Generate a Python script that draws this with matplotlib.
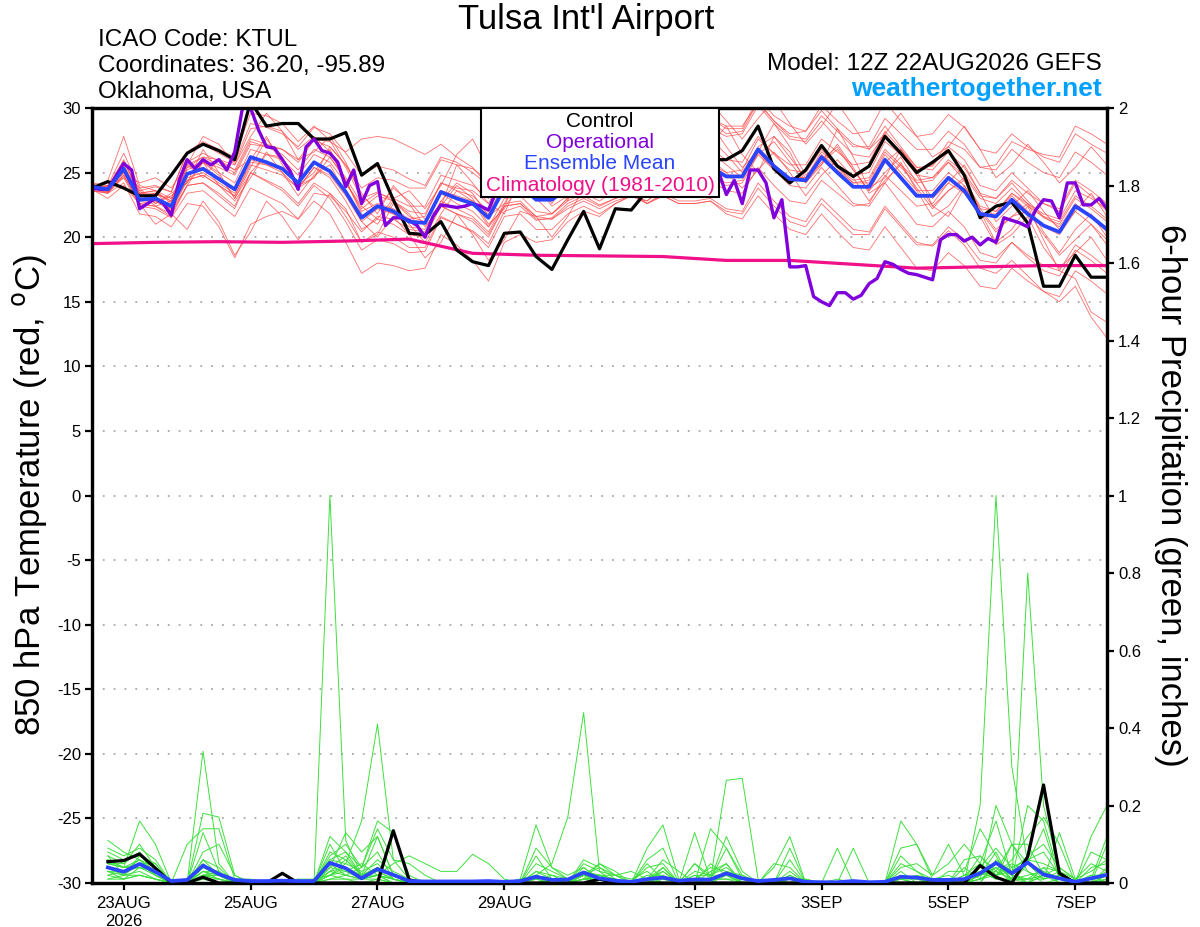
import numpy as np
import matplotlib
matplotlib.use("Agg")
import matplotlib.pyplot as plt
from matplotlib.patches import Rectangle

plt.rcParams['font.family'] = ['Liberation Sans', 'DejaVu Sans']

# ---------------- data ----------------
# x index: 6-hourly steps from 12Z 22AUG2026 (0) to 12Z 07SEP2026 (64)
tick_pos = [2, 10, 18, 26, 38, 46, 54, 62]
tick_labels = ['23AUG\n2026', '25AUG', '27AUG', '29AUG', '1SEP', '3SEP', '5SEP', '7SEP']
temp_ticks = [30, 25, 20, 15, 10, 5, 0, -5, -10, -15, -20, -25, -30]
precip_ticks = [0, 0.2, 0.4, 0.6, 0.8, 1.0, 1.2, 1.4, 1.6, 1.8, 2.0]
precip_tick_labels = ['0', '0.2', '0.4', '0.6', '0.8', '1', '1.2', '1.4', '1.6', '1.8', '2']

control_t = [23.8, 24.3, 23.8, 23.2, 23.2, 24.8, 26.5, 27.2, 26.7, 26.0,
             30.5, 28.6, 28.8, 28.8, 27.6, 27.6, 28.1, 24.8, 25.7, 22.9,
             20.3, 20.2, 21.2, 19.0, 18.1, 17.8, 20.3, 20.4, 18.5, 17.5,
             19.8, 22.0, 19.1, 22.2, 22.1, 23.6, 24.6, 25.2, 25.6, 26.0,
             26.0, 26.7, 28.6, 25.3, 24.2, 25.2, 27.1, 25.5, 24.7, 25.5,
             27.8, 26.5, 25.0, 25.8, 26.7, 24.8, 21.5, 22.4, 22.7, 21.1,
             16.2, 16.2, 18.6, 16.9, 16.9]

mean_t = [23.9, 23.7, 25.3, 22.9, 23.0, 22.4, 24.9, 25.3, 24.5, 23.7,
          26.2, 25.8, 25.3, 24.2, 25.8, 25.1, 23.5, 21.5, 22.4, 22.0,
          21.2, 21.1, 23.5, 23.0, 22.6, 21.5, 23.8, 24.0, 22.9, 22.9,
          23.8, 24.5, 24.0, 24.6, 25.0, 24.5, 25.2, 24.8, 25.0, 25.4,
          24.7, 24.7, 26.8, 25.5, 24.5, 24.4, 26.2, 25.0, 23.9, 23.9,
          26.0, 24.6, 23.2, 23.2, 24.6, 23.6, 21.8, 21.6, 22.9, 21.8,
          20.9, 20.4, 22.4, 21.6, 20.6]

# operational run, 3-hourly (129 values)
oper_t = [23.8, 23.7, 23.7, 24.7, 25.7, 25.2, 22.2, 22.6, 23.0, 22.6,
          21.7, 24.4, 26.0, 25.3, 26.0, 25.6, 26.0, 25.2, 26.6, 30.1,
          30.0, 28.3, 27.0, 26.9, 26.0, 25.1, 23.7, 27.0, 27.6, 26.7,
          26.5, 25.8, 23.9, 25.2, 22.6, 24.0, 24.3, 20.9, 21.5, 21.5,
          21.3, 20.9, 20.0, 21.6, 22.5, 22.4, 22.3, 22.4, 22.6, 22.4,
          22.1, 23.6, 24.4, 24.8, 24.2, 24.0, 24.6, 25.2, 24.8, 24.2,
          23.8, 24.4, 25.0, 25.6, 25.0, 24.4, 24.8, 25.4, 25.8, 25.2,
          24.6, 24.8, 25.4, 25.8, 25.4, 24.8, 24.6, 25.0, 25.4, 25.1,
          23.3, 24.4, 22.6, 25.2, 25.2, 24.2, 21.5, 22.9, 17.7, 17.7,
          17.8, 15.4, 15.0, 14.7, 15.7, 15.7, 15.2, 15.5, 16.4, 16.8,
          18.1, 17.9, 17.5, 17.2, 17.1, 16.9, 16.7, 19.8, 20.2, 20.2,
          19.7, 20.0, 19.4, 19.9, 19.6, 21.5, 21.3, 21.1, 20.8, 22.1,
          22.9, 22.8, 21.5, 24.2, 24.2, 22.5, 22.5, 23.0, 22.2]

# climatology, daily at 12Z
clim_t = [19.5, 19.6, 19.65, 19.6, 19.7, 19.85, 18.75, 18.6, 18.55,
          18.5, 18.2, 18.2, 17.9, 17.6, 17.7, 17.8, 17.8]

t_m01 = [24.2, 24.0, 26.5, 23.8, 24.0, 23.5, 26.5, 27.2, 26.5, 25.8,
         28.8, 28.5, 28.0, 27.0, 28.5, 28.0, 26.5, 24.8, 25.5, 25.2,
         24.5, 24.0, 26.2, 25.8, 25.0, 24.0, 26.5, 27.0, 26.0, 25.8,
         27.0, 27.8, 27.0, 28.0, 28.5, 27.8, 28.8, 28.0, 28.5, 29.0,
         28.0, 28.2, 30.5, 29.0, 28.0, 28.2, 30.2, 29.0, 28.0, 28.2,
         30.5, 29.0, 27.8, 28.0, 29.5, 28.5, 26.8, 26.5, 28.0, 27.0,
         26.2, 25.8, 28.0, 27.2, 26.5]
t_m02 = [23.6, 23.4, 24.8, 22.5, 22.4, 21.6, 24.0, 24.2, 23.2, 22.2,
         25.0, 24.3, 23.6, 22.4, 24.0, 23.0, 21.2, 19.0, 19.8, 19.5,
         18.8, 18.9, 21.5, 21.0, 20.5, 19.5, 22.0, 22.4, 21.3, 21.5,
         22.6, 23.2, 22.5, 23.0, 23.4, 22.6, 23.4, 22.8, 22.8, 23.0,
         22.2, 22.0, 24.2, 22.8, 21.6, 21.2, 23.0, 21.8, 20.6, 20.4,
         22.4, 21.0, 19.6, 19.3, 20.5, 19.4, 17.6, 17.2, 18.2, 17.0,
         15.8, 15.0, 16.2, 13.8, 12.2]
t_m03 = [24.2, 23.5, 25.0, 23.8, 22.6, 23.4, 24.2, 26.8, 25.0, 23.0,
         25.4, 27.6, 26.0, 23.8, 24.6, 27.0, 25.6, 23.4, 21.8, 24.0,
         22.6, 20.8, 22.4, 25.6, 24.2, 22.6, 21.8, 24.6, 26.2, 24.4,
         22.8, 25.2, 27.4, 25.6, 24.2, 26.8, 28.4, 26.0, 24.6, 27.2,
         28.6, 26.4, 25.0, 27.8, 26.6, 24.2, 25.6, 28.4, 26.2, 23.8,
         24.6, 26.8, 25.2, 22.4, 21.6, 23.8, 22.0, 19.6, 20.6, 22.4,
         19.8, 17.4, 16.8, 14.2, 13.4]
t_m04 = [24.1, 23.8, 25.9, 23.6, 23.9, 23.5, 26.6, 27.4, 26.8, 26.2,
         29.6, 29.4, 28.8, 27.4, 28.6, 27.5, 25.4, 23.0, 23.5, 22.8,
         21.6, 21.2, 23.4, 22.6, 22.0, 20.8, 23.0, 23.2, 22.0, 21.8,
         22.8, 23.4, 22.8, 23.6, 24.2, 23.8, 24.8, 24.6, 25.0, 25.6,
         25.0, 25.2, 27.6, 26.5, 25.6, 25.6, 27.6, 26.6, 25.6, 25.8,
         28.2, 26.8, 25.4, 25.5, 27.0, 26.0, 24.0, 23.6, 25.0, 23.8,
         22.6, 22.0, 24.2, 23.2, 22.0]
t_m05 = [23.6, 23.5, 24.6, 22.4, 22.2, 21.5, 23.4, 23.6, 22.6, 21.6,
         23.8, 23.2, 22.6, 21.4, 22.8, 21.8, 19.6, 17.2, 18.0, 17.8,
         17.4, 17.6, 20.2, 19.4, 18.2, 16.6, 19.6, 20.2, 19.6, 19.8,
         21.2, 22.0, 21.6, 22.6, 23.2, 22.8, 23.8, 23.6, 24.0, 24.6,
         24.0, 24.2, 26.4, 25.2, 24.4, 24.4, 26.2, 25.2, 24.2, 24.4,
         26.6, 25.4, 24.2, 24.4, 25.8, 24.8, 23.0, 22.6, 23.8, 22.6,
         21.5, 21.0, 23.0, 22.2, 21.2]
t_m06 = [23.8, 23.6, 25.6, 23.2, 23.3, 23.0, 25.8, 26.5, 25.9, 25.2,
         27.6, 27.2, 26.8, 25.8, 27.5, 27.0, 25.6, 23.8, 24.6, 24.4,
         23.8, 23.8, 26.0, 25.6, 25.3, 24.4, 26.6, 27.0, 26.0, 26.2,
         27.4, 28.0, 27.4, 28.0, 28.6, 28.0, 28.8, 28.3, 28.6, 29.2,
         28.4, 28.4, 30.8, 29.4, 28.6, 28.2, 29.8, 28.4, 27.2, 26.8,
         28.6, 27.0, 25.4, 25.2, 26.6, 25.4, 23.4, 23.0, 24.2, 22.8,
         21.6, 20.8, 22.6, 21.6, 20.4]
t_m07 = [23.7, 23.0, 24.0, 22.6, 21.0, 21.8, 20.6, 22.8, 21.2, 18.6,
         20.4, 22.8, 21.6, 19.8, 21.4, 23.4, 22.2, 19.6, 20.2, 22.6,
         21.0, 19.6, 21.8, 23.6, 22.8, 20.8, 22.4, 25.0, 24.2, 22.6,
         24.4, 26.6, 25.8, 24.4, 27.2, 27.8, 26.4, 25.2, 27.6, 28.8,
         27.0, 25.4, 26.6, 28.8, 27.0, 24.8, 25.6, 27.2, 25.4, 23.4,
         24.2, 25.8, 23.6, 21.6, 22.4, 24.0, 21.6, 19.4, 20.2, 21.6,
         19.2, 17.6, 18.8, 20.0, 18.2]
t_m08 = [24.0, 23.8, 25.2, 23.2, 23.4, 22.8, 25.2, 25.8, 25.4, 24.8,
         27.2, 27.0, 26.8, 26.0, 27.6, 27.4, 26.6, 27.6, 27.8, 27.6,
         27.0, 26.4, 27.2, 26.2, 25.4, 24.0, 25.8, 25.6, 24.2, 24.0,
         24.8, 25.2, 24.4, 24.8, 25.0, 24.2, 24.8, 24.2, 24.2, 24.4,
         23.6, 23.4, 25.4, 24.0, 22.8, 22.6, 24.4, 23.4, 22.4, 22.6,
         24.8, 23.6, 22.4, 22.6, 24.2, 23.4, 21.8, 21.8, 23.4, 22.6,
         21.8, 21.4, 23.6, 23.0, 22.2]
t_m09 = [23.9, 24.0, 24.6, 23.4, 23.6, 22.0, 24.0, 25.8, 24.8, 23.0,
         25.0, 26.4, 26.2, 24.0, 24.6, 26.2, 24.4, 21.8, 21.0, 22.8,
         21.8, 20.2, 22.8, 24.2, 23.4, 21.6, 22.6, 24.8, 24.0, 22.4,
         23.2, 25.2, 24.8, 24.0, 25.6, 26.4, 25.0, 24.6, 26.2, 26.6,
         25.6, 24.6, 26.4, 27.4, 25.8, 24.2, 25.8, 26.8, 25.2, 23.6,
         25.8, 26.8, 24.8, 23.0, 24.2, 25.6, 23.4, 21.2, 22.4, 23.6,
         22.0, 20.6, 22.0, 23.4, 21.6]
t_m10 = [23.8, 24.4, 27.8, 24.0, 23.6, 22.6, 25.4, 26.2, 26.0, 25.6,
         28.4, 28.6, 28.2, 26.8, 27.8, 26.6, 24.4, 22.0, 22.6, 22.2,
         21.4, 21.6, 24.2, 23.8, 23.6, 22.6, 25.0, 25.4, 24.4, 24.6,
         25.6, 26.4, 26.0, 26.8, 27.4, 27.0, 27.8, 27.4, 27.8, 28.4,
         27.8, 28.0, 30.2, 28.8, 27.6, 27.4, 29.0, 27.6, 26.4, 26.2,
         28.0, 26.4, 24.8, 24.6, 25.8, 24.4, 22.4, 22.0, 23.2, 22.0,
         20.8, 20.2, 22.0, 21.0, 19.8]
t_m11 = [23.9, 23.6, 25.4, 22.8, 22.8, 22.0, 24.4, 24.8, 24.0, 23.2,
         25.8, 25.6, 25.2, 24.2, 25.8, 25.2, 23.6, 21.6, 22.4, 21.8,
         20.8, 20.6, 22.8, 22.2, 21.6, 20.4, 22.6, 22.8, 21.6, 21.4,
         22.2, 22.8, 22.2, 22.8, 23.2, 22.6, 23.2, 22.6, 22.6, 22.8,
         21.8, 21.4, 23.2, 21.8, 20.6, 20.2, 21.8, 20.4, 19.2, 19.0,
         20.8, 19.2, 17.6, 17.4, 18.8, 17.8, 16.2, 16.0, 17.6, 16.6,
         15.8, 15.4, 17.4, 16.6, 15.6]
t_m12 = [23.6, 24.0, 25.0, 23.4, 22.4, 22.8, 25.6, 24.6, 26.0, 25.2,
         26.0, 27.8, 25.6, 24.0, 25.0, 26.8, 24.2, 22.4, 21.4, 23.0,
         23.6, 22.2, 24.0, 26.4, 27.6, 25.2, 24.6, 27.8, 28.4, 26.2,
         27.0, 29.6, 28.0, 27.2, 29.8, 30.6, 28.4, 27.6, 29.4, 30.4,
         29.0, 27.6, 29.2, 30.6, 28.8, 27.2, 28.6, 30.4, 28.6, 26.8,
         28.0, 29.6, 27.8, 26.2, 27.0, 28.6, 26.8, 24.6, 25.6, 27.2,
         25.8, 24.2, 25.4, 27.0, 25.6]
t_m13 = [23.8, 23.9, 25.0, 22.6, 22.4, 21.8, 24.0, 24.2, 23.4, 22.4,
         25.0, 24.4, 23.8, 22.6, 24.2, 23.4, 21.6, 19.6, 20.4, 20.0,
         19.2, 19.2, 21.6, 21.0, 20.4, 19.2, 21.6, 21.8, 20.6, 20.6,
         21.8, 22.4, 21.8, 22.6, 23.2, 22.8, 23.8, 23.6, 24.0, 24.6,
         24.2, 24.4, 26.6, 25.4, 24.6, 24.6, 26.4, 25.4, 24.4, 24.6,
         26.8, 25.6, 24.4, 24.6, 26.0, 25.0, 23.2, 23.0, 24.4, 23.4,
         22.6, 22.2, 24.4, 23.6, 22.6]
t_m14 = [24.0, 23.6, 24.8, 22.6, 22.8, 22.2, 24.4, 24.8, 24.0, 23.2,
         25.6, 25.2, 24.8, 23.8, 25.4, 24.8, 23.2, 21.2, 22.2, 21.8,
         21.2, 21.2, 23.6, 23.2, 22.8, 21.8, 24.2, 24.4, 23.4, 23.4,
         24.4, 25.0, 24.4, 25.0, 25.4, 24.8, 25.4, 25.0, 25.2, 25.6,
         24.8, 24.8, 26.8, 25.6, 24.6, 24.6, 26.6, 25.6, 24.8, 25.0,
         27.4, 26.4, 25.2, 25.6, 27.4, 26.8, 25.4, 25.6, 27.4, 26.8,
         26.4, 26.2, 28.6, 28.0, 27.2]
t_m15 = [23.6, 23.4, 24.2, 21.8, 21.6, 20.8, 22.6, 22.4, 20.8, 18.4,
         21.0, 21.6, 22.0, 21.4, 23.4, 23.2, 22.0, 20.4, 21.6, 21.4,
         20.6, 20.4, 22.4, 21.8, 21.4, 20.2, 22.4, 22.6, 21.6, 21.8,
         23.0, 23.8, 23.4, 24.2, 24.8, 24.4, 25.2, 24.8, 25.0, 25.4,
         24.6, 24.6, 26.6, 25.2, 24.0, 23.8, 25.4, 24.0, 22.6, 22.4,
         24.2, 22.6, 21.0, 20.8, 22.0, 20.8, 18.8, 18.4, 19.6, 18.4,
         17.4, 17.0, 19.0, 18.2, 17.2]
t_m16 = [23.9, 24.2, 25.0, 24.2, 24.6, 23.8, 25.6, 27.8, 27.2, 25.6,
         27.8, 29.6, 28.2, 26.0, 26.6, 27.8, 25.8, 23.2, 22.2, 23.8,
         22.8, 21.4, 22.4, 24.0, 23.0, 21.0, 22.2, 24.2, 23.0, 21.8,
         23.0, 25.4, 25.0, 24.2, 26.4, 26.8, 25.6, 24.8, 26.8, 27.6,
         26.4, 25.0, 27.0, 27.8, 26.2, 24.6, 26.0, 27.0, 25.2, 23.6,
         25.0, 26.2, 24.2, 22.4, 23.6, 24.4, 22.0, 20.4, 21.6, 22.6,
         20.4, 18.8, 20.6, 21.8, 20.0]
t_m17 = [23.8, 23.5, 25.2, 22.8, 22.9, 22.2, 24.6, 25.0, 24.2, 23.4,
         26.0, 25.6, 25.0, 23.8, 25.4, 24.6, 22.8, 20.6, 21.4, 21.0,
         20.2, 20.0, 22.4, 21.8, 21.2, 20.0, 22.4, 22.6, 21.4, 21.4,
         22.4, 23.0, 22.4, 23.0, 23.4, 22.6, 23.2, 22.6, 22.6, 22.8,
         22.0, 21.8, 23.8, 22.4, 21.2, 20.8, 22.6, 21.4, 20.2, 20.2,
         22.2, 20.8, 19.4, 19.4, 20.8, 19.8, 18.2, 18.0, 19.6, 18.6,
         17.8, 17.4, 19.4, 18.6, 17.6]
t_m18 = [24.0, 23.9, 25.8, 23.4, 23.6, 23.0, 25.6, 26.2, 25.6, 25.0,
         27.4, 27.0, 26.4, 25.2, 26.8, 26.2, 24.6, 22.6, 23.4, 23.0,
         22.4, 22.4, 24.8, 24.4, 24.0, 23.0, 25.4, 25.8, 24.8, 25.0,
         26.2, 27.0, 26.6, 27.4, 28.0, 27.6, 28.6, 28.2, 28.6, 29.2,
         28.6, 28.6, 30.4, 29.0, 27.8, 27.6, 29.4, 28.2, 27.0, 27.0,
         29.2, 28.0, 26.8, 26.8, 28.2, 27.2, 25.4, 25.2, 26.8, 25.8,
         25.0, 24.6, 26.6, 25.8, 24.8]
t_m19 = [23.9, 23.4, 24.8, 23.6, 22.6, 23.2, 24.2, 25.8, 24.0, 22.8,
         24.6, 26.6, 25.0, 23.2, 24.8, 25.6, 23.4, 21.2, 20.0, 21.6,
         20.2, 18.4, 19.6, 21.8, 20.2, 18.2, 19.8, 22.0, 21.6, 20.0,
         21.6, 23.8, 24.2, 23.0, 24.0, 25.4, 24.6, 23.6, 25.2, 26.0,
         25.0, 23.8, 25.2, 26.6, 25.0, 23.2, 24.8, 26.0, 24.6, 22.8,
         24.4, 25.6, 23.8, 22.2, 23.6, 24.6, 22.2, 20.6, 21.6, 22.0,
         20.2, 18.6, 19.8, 21.0, 19.4]
t_m20 = [23.7, 23.9, 26.0, 23.4, 23.4, 22.8, 25.4, 25.8, 25.0, 24.2,
         26.8, 26.4, 26.0, 24.8, 26.4, 25.8, 24.2, 22.2, 23.2, 22.8,
         22.0, 21.8, 24.2, 23.6, 23.2, 22.0, 24.6, 25.0, 24.0, 24.2,
         25.4, 26.2, 25.6, 26.4, 26.8, 26.2, 26.8, 26.2, 26.4, 26.8,
         26.0, 25.8, 27.8, 26.4, 25.2, 25.0, 26.8, 25.4, 24.2, 24.2,
         26.4, 25.0, 23.6, 23.6, 25.0, 24.0, 22.2, 22.0, 23.4, 22.4,
         21.6, 21.2, 23.2, 22.4, 21.4]

# 6-hour precipitation, steps 1..64
control_p = [.055, .058, .075, .038, 0, 0, .015, 0, 0, 0, 0, .025, 0, 0, 0, 0,
             0, 0, .135, .008, 0, 0, 0, 0, 0, 0, 0, 0, 0, 0, 0, .01,
             0, 0, 0, 0, 0, 0, 0, 0, 0, 0, 0, 0, 0, 0, 0, 0,
             0, 0, 0, 0, 0, 0, 0, .045, .015, 0, .068, .253, .025, 0, 0, 0]
mean_p = [.040, .029, .049, .029, .005, .008, .045, .023, .008, .005, .005, .006, .005, .005, .052, .038,
          .012, .036, .021, .005, .004, .004, .004, .004, .005, .003, .005, .016, .008, .009, .027, .012,
          .006, .003, .010, .014, .006, .009, .009, .025, .012, .005, .008, .012, .003, .002, .002, .005,
          .002, .003, .016, .014, .008, .008, .010, .025, .052, .025, .053, .022, .012, .003, .012, .021]

p_m01 = [.11, .08, .06, .02, 0, 0, .34, .05, 0, 0, 0, 0, 0, 0, 1.0, .11,
         .02, .03, .01, 0, 0, 0, 0, 0, 0, 0, 0, .02, 0, 0, .01, 0,
         0, 0, 0, 0, 0, 0, 0, 0, 0, 0, 0, 0, 0, 0, 0, 0,
         0, 0, .01, 0, 0, 0, 0, .02, .05, .01, 0, .02, 0, 0, 0, .01]
p_m02 = [.05, .04, .16, .10, 0, 0, .02, .01, 0, 0, 0, 0, 0, 0, .02, .05,
         .16, .41, .06, .01, 0, 0, 0, 0, 0, 0, .01, .02, 0, 0, .02, 0,
         0, 0, .01, .03, 0, 0, 0, 0, 0, 0, 0, 0, 0, 0, 0, 0,
         0, 0, 0, 0, 0, 0, 0, 0, .06, .03, 0, 0, .01, 0, 0, 0]
p_m03 = [.03, .02, .07, .05, 0, 0, .18, .17, .02, 0, 0, 0, 0, 0, .04, .13,
         .08, .12, .02, 0, 0, 0, 0, 0, 0, 0, 0, .09, .04, .02, .04, .01,
         0, 0, 0, .04, 0, .05, .01, .12, .03, 0, 0, .06, 0, 0, 0, 0,
         0, 0, .07, .03, 0, 0, .01, .07, .02, .05, .03, 0, 0, 0, .04, .05]
p_m04 = [.07, .05, .08, .02, 0, .10, .14, .14, .01, 0, 0, 0, .01, 0, .07, .10,
         .04, .16, .13, .02, 0, 0, 0, 0, 0, 0, 0, .02, .01, 0, .02, .05,
         .03, 0, .06, .09, 0, 0, 0, .03, .02, 0, .04, .12, 0, 0, 0, 0,
         0, 0, .16, .10, .01, 0, 0, .20, 1.0, .30, .05, .01, .03, 0, 0, .02]
p_m05 = [.02, .01, .04, .03, 0, 0, .05, .02, 0, 0, 0, 0, 0, 0, .03, .04,
         .01, .02, .01, 0, 0, 0, 0, 0, 0, 0, 0, .02, .05, .17, .44, .03,
         0, 0, 0, 0, 0, .13, .01, .09, .02, 0, 0, .09, 0, 0, 0, .09,
         0, 0, .03, 0, 0, 0, .06, .07, .03, .01, .20, .16, .02, 0, .12, .20]
p_m06 = [.04, .03, .05, .02, 0, 0, .03, .01, 0, 0, 0, 0, 0, 0, .03, .06,
         .02, .03, .01, 0, 0, 0, 0, 0, 0, 0, .01, .15, .04, .01, .02, .02,
         0, 0, .05, .01, 0, 0, .01, .265, .27, .01, 0, 0, 0, 0, 0, 0,
         0, 0, 0, 0, 0, 0, 0, .02, .08, 0, .80, .20, .03, 0, 0, 0]
p_m07 = [.06, .04, .05, .03, 0, 0, .04, .03, 0, 0, 0, 0, 0, 0, .05, .02,
         .04, .08, .01, 0, 0, 0, 0, 0, 0, 0, 0, .07, .01, 0, .01, .05,
         .02, 0, .09, .15, .01, 0, .14, .09, .01, 0, .05, .04, 0, 0, 0, 0,
         0, 0, .09, .10, .02, .10, .02, .02, .03, .10, .03, .01, .13, .01, 0, .10]
p_m08 = [.04, .03, .06, .04, 0, 0, .02, .02, .01, .01, 0, 0, .01, .01, .02, .03,
         .05, .02, .05, .07, .05, .03, .03, .074, .05, .01, 0, 0, 0, 0, .02, .01,
         .01, 0, 0, 0, 0, 0, 0, 0, 0, 0, 0, 0, 0, 0, 0, 0,
         0, 0, 0, 0, 0, 0, 0, .05, .16, .02, 0, .04, .03, 0, .02, 0]
p_m09 = [.08, .06, .07, .04, 0, 0, .13, .03, 0, 0, 0, 0, 0, 0, .06, .08,
         .02, .12, .02, 0, 0, 0, 0, 0, 0, 0, 0, .03, .01, 0, .06, .04,
         .02, 0, .04, .05, 0, .02, 0, .02, 0, 0, 0, .03, 0, 0, .09, 0,
         0, 0, .04, .05, .02, .05, .10, .05, .02, .06, .12, .17, .10, 0, 0, 0]
p_m10 = [.01, .02, .03, .01, 0, 0, .01, .01, 0, 0, 0, 0, 0, 0, .03, .02,
         .01, .02, 0, 0, 0, 0, 0, 0, 0, 0, 0, .01, .02, .01, .03, .02,
         0, 0, .01, .06, .03, 0, .05, .02, 0, 0, .01, 0, 0, 0, 0, 0,
         0, 0, .01, 0, .01, 0, .04, .01, .20, .10, .05, .14, .01, 0, .08, .06]
p_m11 = [.05, .05, .10, .04, 0, 0, .06, .04, 0, 0, 0, 0, 0, 0, .08, .06,
         .02, .04, .02, 0, 0, 0, 0, 0, 0, 0, 0, 0, 0, 0, .01, .01,
         0, 0, 0, 0, 0, 0, 0, 0, 0, 0, 0, 0, 0, 0, 0, 0,
         0, 0, 0, 0, 0, 0, 0, .01, .04, 0, 0, .02, .01, 0, .02, 0]
p_m12 = [.03, .01, .02, .01, 0, 0, .06, .02, 0, 0, 0, 0, 0, 0, .12, .08,
         .04, .14, .06, .05, .02, 0, 0, 0, 0, 0, 0, .01, 0, 0, .03, .02,
         .01, 0, 0, 0, 0, .05, .02, .04, .01, 0, 0, .02, 0, 0, 0, 0,
         0, 0, .02, .01, 0, .03, .03, .14, .07, 0, .05, .03, 0, .01, .05, .03]
p_m13 = [.02, .03, .05, .02, 0, 0, .02, .02, 0, 0, 0, 0, 0, 0, .02, .04,
         .02, .02, 0, 0, 0, 0, 0, 0, 0, 0, 0, 0, 0, 0, .05, .03,
         .02, .01, .03, 0, 0, 0, .03, .05, 0, 0, 0, .01, .01, 0, .01, 0,
         0, 0, .01, .02, .01, 0, .02, .05, .02, .04, .06, .08, .02, 0, .01, .12]
p_m14 = [.09, .07, .09, .06, 0, 0, .08, .10, .02, 0, 0, 0, 0, .01, .06, .05,
         .03, .05, .01, 0, 0, 0, 0, 0, 0, 0, 0, .05, .03, .01, .02, .04,
         .01, 0, .01, .04, 0, .01, .04, .03, 0, 0, 0, 0, 0, 0, 0, 0,
         0, 0, 0, 0, 0, 0, .02, .03, .01, .10, .10, .02, .04, .01, 0, .04]
p_m15 = [.04, .02, .02, .01, 0, 0, .01, 0, 0, 0, 0, 0, 0, 0, .01, .02,
         .01, .01, 0, 0, 0, 0, 0, 0, 0, 0, 0, 0, .01, 0, .02, .01,
         0, 0, .02, .02, 0, 0, .01, .01, .01, 0, 0, .02, 0, 0, 0, 0,
         0, 0, .01, .01, 0, 0, 0, 0, .05, .01, .01, .04, 0, 0, 0, .01]
p_m16 = [.06, .04, .06, .03, 0, 0, .04, .02, 0, 0, 0, 0, 0, 0, .10, .03,
         .02, .04, .02, 0, 0, 0, 0, 0, 0, 0, 0, .03, .02, 0, .01, .02,
         .01, 0, 0, .03, 0, .03, .02, .05, 0, 0, 0, .01, 0, 0, 0, 0,
         0, 0, .05, .03, .01, .02, 0, .04, .09, .04, .06, .05, .03, .01, .03, .06]
p_m17 = [.01, .01, .02, .01, 0, 0, .02, .03, 0, 0, 0, 0, 0, 0, .02, .01,
         0, .01, 0, 0, 0, 0, 0, 0, 0, 0, 0, 0, 0, 0, .01, .02,
         .02, .03, .01, 0, 0, 0, 0, 0, 0, 0, 0, 0, 0, 0, 0, 0,
         0, 0, 0, 0, 0, 0, 0, .02, .04, .02, .01, .02, .01, 0, 0, .01]
p_m18 = [.03, .03, .04, .02, 0, 0, .02, .01, 0, 0, 0, 0, 0, 0, .04, .07,
         .02, .06, .03, .01, 0, 0, 0, 0, 0, 0, 0, .01, 0, 0, .04, .01,
         0, 0, 0, .01, 0, 0, .01, .01, 0, 0, 0, 0, .01, 0, 0, 0,
         0, 0, 0, 0, 0, 0, 0, .03, .01, .01, .01, .01, .02, 0, .02, .02]
p_m19 = [.05, .04, .04, .03, 0, 0, .03, .02, 0, 0, 0, 0, 0, 0, .04, .03,
         .01, .02, .01, 0, 0, 0, 0, 0, 0, 0, 0, 0, 0, 0, .01, .01,
         0, 0, 0, 0, 0, .02, .02, .02, 0, 0, 0, 0, 0, 0, 0, 0,
         0, 0, 0, 0, 0, 0, 0, .01, .03, .01, .02, .03, .01, 0, .01, .03]
p_m20 = [.07, .02, .05, .05, 0, 0, .03, .03, 0, 0, 0, 0, 0, 0, .01, .01,
         .01, .02, .01, 0, 0, 0, 0, 0, 0, 0, 0, 0, 0, 0, 0, .01,
         0, 0, 0, 0, 0, 0, 0, 0, 0, 0, 0, 0, 0, 0, 0, 0,
         0, 0, 0, 0, 0, 0, 0, .01, .02, .03, .07, .10, .04, .01, 0, .02]

# ---------------- plotting ----------------
W, H = 1200, 927
fig = plt.figure(figsize=(W / 100, H / 100), dpi=100)
L, R, T, B = 92, 1107, 108, 883
ax = fig.add_axes([L / W, 1 - B / H, (R - L) / W, (B - T) / H])
ax2 = ax.twinx()

x6 = np.arange(len(control_t))
x3 = np.arange(len(oper_t)) / 2.0
xc = np.arange(0, 65, 4)
xp = np.arange(1, len(control_p) + 1)

red_members = [t_m01, t_m02, t_m03, t_m04, t_m05, t_m06, t_m07, t_m08, t_m09, t_m10,
               t_m11, t_m12, t_m13, t_m14, t_m15, t_m16, t_m17, t_m18, t_m19, t_m20]
green_members = [p_m01, p_m02, p_m03, p_m04, p_m05, p_m06, p_m07, p_m08, p_m09, p_m10,
                 p_m11, p_m12, p_m13, p_m14, p_m15, p_m16, p_m17, p_m18, p_m19, p_m20]

for m in red_members:
    ax.plot(x6, m, color='#ff4a4a', lw=0.6, alpha=0.8, zorder=2)
ax.plot(xc, clim_t, color='#f0108a', lw=2.3, zorder=3)
ax.plot(x6, control_t, color='black', lw=2.3, zorder=4)
ax.plot(x3, oper_t, color='#8000dc', lw=2.4, zorder=5)
ax.plot(x6, mean_t, color='#2a44ff', lw=2.7, zorder=6)

for m in green_members:
    ax2.plot(xp, m, color='#3ee03e', lw=0.7, zorder=2)
ax2.plot(xp, control_p, color='black', lw=2.3, zorder=4)
ax2.plot(xp, mean_p, color='#2a44ff', lw=2.7, zorder=5)

ax.set_xlim(0, 64)
ax.set_ylim(-30, 30)
ax2.set_ylim(0, 2)

ax.set_yticks(temp_ticks)
ax.set_yticklabels([str(v) for v in temp_ticks])
ax2.set_yticks(precip_ticks)
ax2.set_yticklabels(precip_tick_labels)
ax.set_xticks(tick_pos)
ax.set_xticklabels(tick_labels, fontsize=12, linespacing=1.25)

for v in temp_ticks[1:-1]:
    ax.axhline(v, color='#a8a8a8', lw=1.3, ls=(0, (1, 5)), zorder=1)

ax.tick_params(axis='y', direction='out', length=5, width=1.6, labelsize=12, pad=3)
ax.tick_params(axis='x', direction='out', length=5, width=1.6, pad=4)
ax2.tick_params(axis='y', direction='out', length=5, width=1.6, labelsize=12, pad=3)
for a in (ax, ax2):
    for s in a.spines.values():
        s.set_linewidth(2.3)
        s.set_color('black')

# legend box
leg_x0, leg_x1, leg_y1 = 481, 719, 197
ax2.add_patch(Rectangle(((leg_x0 - L) / (R - L), 1 - (leg_y1 - T) / (B - T)),
                        (leg_x1 - leg_x0) / (R - L), (leg_y1 - T) / (B - T),
                        transform=ax2.transAxes, facecolor='white', edgecolor='black',
                        lw=1.5, zorder=20, clip_on=False))
leg_items = [('Control', 'black', 121), ('Operational', '#8000dc', 142),
             ('Ensemble Mean', '#2a44ff', 163), ('Climatology (1981-2010)', '#f0108a', 185)]
for txt, col, yy in leg_items:
    ax2.text(((leg_x0 + leg_x1) / 2 - L) / (R - L), 1 - (yy - T) / (B - T), txt,
             transform=ax2.transAxes, ha='center', va='center', color=col,
             fontsize=15, zorder=21)

# titles and labels
fig.text(586 / W, 1 - 19 / H, "Tulsa Int'l Airport", ha='center', va='center', fontsize=25)
fig.text(98 / W, 1 - 40 / H, 'ICAO Code: KTUL', ha='left', va='center', fontsize=17.5)
fig.text(98 / W, 1 - 66 / H, 'Coordinates: 36.20, -95.89', ha='left', va='center', fontsize=17.5)
fig.text(98 / W, 1 - 92 / H, 'Oklahoma, USA', ha='left', va='center', fontsize=17.5)
fig.text(1102 / W, 1 - 64 / H, 'Model: 12Z 22AUG2026 GEFS', ha='right', va='center', fontsize=17.5)
fig.text(1102 / W, 1 - 89 / H, 'weathertogether.net', ha='right', va='center', fontsize=19,
         fontweight='bold', color='#00a0ff')
fig.text(30 / W, 1 - 495 / H, r'850 hPa Temperature (red, $^{\mathrm{o}}$C)', rotation=90,
         ha='center', va='center', fontsize=25)
fig.text(1170 / W, 1 - 495 / H, '6-hour Precipitation (green, inches)', rotation=270,
         ha='center', va='center', fontsize=25)

fig.savefig('out.png', dpi=100)
